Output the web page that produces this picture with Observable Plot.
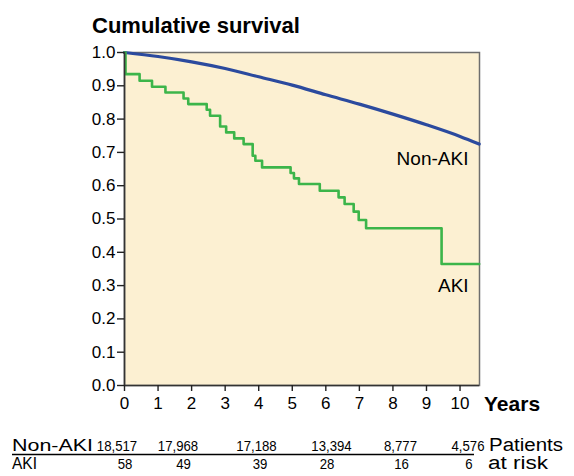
<!DOCTYPE html>
<html><head><meta charset="utf-8">
<script src="https://cdn.jsdelivr.net/npm/d3@7"></script>
<script src="https://cdn.jsdelivr.net/npm/@observablehq/plot@0.6"></script>
<style>body{margin:0;background:#fff;}</style>
</head><body><div id="chart"></div>
<script>
// Data
const nonAkiYears = [0, 1, 2, 3, 4, 5, 6, 7, 8, 9, 10, 10.57];
const nonAkiSurvival = [1.0, 0.988, 0.972, 0.952, 0.927, 0.902, 0.873, 0.845, 0.815, 0.783, 0.748, 0.725];
const akiYears = [0, 0.03, 0.45, 0.82, 1.22, 1.76, 1.9, 2.45, 2.55, 2.85, 3.03, 3.27, 3.55, 3.82, 3.9, 4.1, 4.95, 5.05, 5.2, 5.82, 6.38, 6.56, 6.83, 6.98, 7.2, 9.45, 10.57];
const akiSurvival = [1.0, 0.935, 0.915, 0.897, 0.88, 0.862, 0.845, 0.828, 0.81, 0.778, 0.76, 0.742, 0.725, 0.69, 0.675, 0.655, 0.638, 0.622, 0.605, 0.585, 0.565, 0.545, 0.522, 0.497, 0.472, 0.365, 0.365];
const xTicks = [0, 1, 2, 3, 4, 5, 6, 7, 8, 9, 10];
const yTicks = [0, 0.1, 0.2, 0.3, 0.4, 0.5, 0.6, 0.7, 0.8, 0.9, 1.0];
const seriesNames = ["Non-AKI", "AKI"];
const seriesLabelYear = [9.18, 9.8];
const seriesLabelSurv = [0.68, 0.30];
const riskNonAki = ["18,517", "17,968", "17,188", "13,394", "8,777", "4,576"];
const riskAki = ["58", "49", "39", "28", "16", "6"];

const FONT = '"Liberation Sans", Arial, sans-serif';
const nonAki = nonAkiYears.map((t, i) => ({t, s: nonAkiSurvival[i]}));
const aki = akiYears.map((t, i) => ({t, s: akiSurvival[i]}));
const labels = seriesNames.map((name, i) => ({name, t: seriesLabelYear[i], s: seriesLabelSurv[i]}));

const svg = Plot.plot({
  width: 574, height: 476,
  marginLeft: 124, marginRight: 95, marginTop: 52, marginBottom: 91,
  style: {fontFamily: FONT, background: "#fff", color: "#000"},
  x: {domain: [0, 10.58]},
  y: {domain: [0, 1]},
  marks: [
    Plot.frame({fill: "#FCF0D2", stroke: "#6e6e6e", strokeWidth: 1.5}),
    Plot.line(nonAki, {x: "t", y: "s", curve: "monotone-x", stroke: "#2B4A9E", strokeWidth: 3.2}),
    Plot.line(aki, {x: "t", y: "s", curve: "step-after", stroke: "#3CB54A", strokeWidth: 2.6}),
    Plot.ruleX([0], {stroke: "#333", strokeWidth: 1.6}),
    Plot.ruleY([0], {stroke: "#333", strokeWidth: 1.6}),
    Plot.axisX({ticks: xTicks, tickSize: 6, tickPadding: 5, fontSize: 17, label: null, stroke: "#222", strokeWidth: 1.4}),
    Plot.axisY({ticks: yTicks, tickSize: 7, tickPadding: 2, fontSize: 17, label: null, tickFormat: d3.format(".1f"), stroke: "#222", strokeWidth: 1.4}),
    Plot.text(labels, {x: "t", y: "s", text: "name", fontSize: 19, fill: "#000"})
  ]
});
document.getElementById("chart").appendChild(svg);

const g = d3.select(svg).append("g").attr("font-family", FONT).attr("fill", "#000");
function addText(x, y, str, o) {
  const t = g.append("text").attr("x", x).attr("y", y).text(str)
    .style("font-size", o.size + "px").style("font-weight", o.weight || "normal")
    .attr("text-anchor", o.anchor || "start");
  let w = o.width;
  if (!w && o.stretch) w = t.node().getComputedTextLength() * o.stretch;
  if (w) t.attr("textLength", w).attr("lengthAdjust", "spacingAndGlyphs");
  return t;
}
// Title and axis label
addText(92, 33, "Cumulative survival", {size: 22, weight: "bold"});
addText(484, 411, "Years", {size: 21, weight: "bold"});

// Patients at risk table
const colCentersRow1 = [117, 178, 256.5, 331.5, 400.5, 468];
const colCentersRow2 = [125, 183.5, 260, 327, 401.5, 469];
addText(12, 451, "Non-AKI", {size: 17, width: 81});
addText(12, 469, "AKI", {size: 17, width: 25});
riskNonAki.forEach((v, i) => addText(colCentersRow1[i], 451, v, {size: 15, anchor: "middle", stretch: 0.88}));
riskAki.forEach((v, i) => addText(colCentersRow2[i], 469, v, {size: 15, anchor: "middle", stretch: 0.88}));
g.append("line").attr("x1", 12).attr("x2", 474).attr("y1", 454.5).attr("y2", 454.5).attr("stroke", "#000").attr("stroke-width", 1.5);
addText(489, 451, "Patients", {size: 18, width: 74});
addText(488, 469, "at risk", {size: 18, width: 60});
</script>
</body></html>
